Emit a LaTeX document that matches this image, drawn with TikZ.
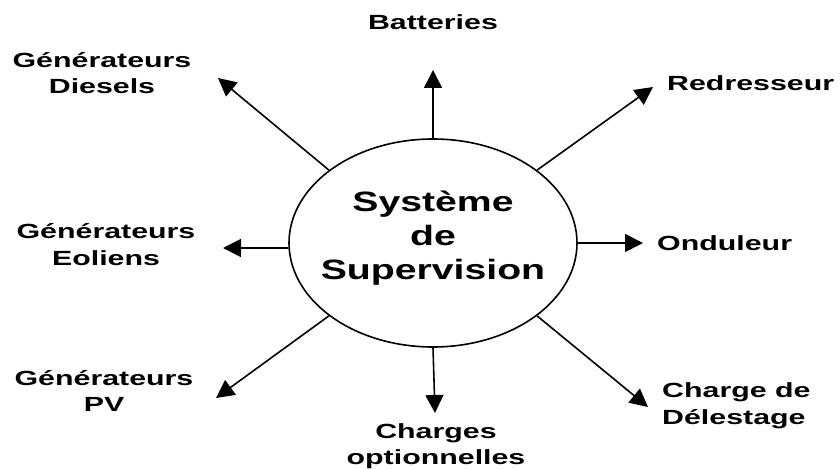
\documentclass[tikz,border=0pt]{standalone}
\usepackage{fontspec}
\newfontfamily\labfont[FakeStretch=1.48]{Liberation Sans}
\newfontfamily\cenfont[FakeStretch=1.40]{Liberation Sans}
\usetikzlibrary{shapes.geometric,arrows.meta}
\tikzset{
  lab/.style={inner sep=0pt, font=\labfont\bfseries\fontsize{20.5}{26.5}\selectfont, align=center},
  conn/.style={line width=1.6pt, -{Triangle[length=18pt,width=18pt]}},
  sysnode/.style={ellipse, draw, line width=1.6pt, minimum width=288pt, minimum height=208pt, inner sep=0pt}
}
\begin{document}
\begin{tikzpicture}[x=1pt,y=-1pt]
\useasboundingbox (0,0) rectangle (840,470);
\node[sysnode] (sys) at (433,243) {};
\node[inner sep=0pt, align=center, font=\cenfont\bfseries\fontsize{28}{34}\selectfont] (lbl) at (433,238.5) {Système\\de\\Supervision};
% labels
\node[lab, anchor=base] (bat) at (433,30) {Batteries};
\node[lab] (die) at (102,73) {Générateurs\\Diesels};
\node[lab, anchor=base west] (red) at (667,91) {Redresseur};
\node[lab] (eol) at (106,244.5) {Générateurs\\Eoliens};
\node[lab, anchor=base west] (ond) at (657,251) {Onduleur};
\node[lab] (pv) at (104,391) {Générateurs\\PV};
\node[lab] (cho) at (436,446) {Charges\\optionnelles};
\node[lab, align=left, anchor=west] (del) at (662,405.5) {Charge de\\Délestage};
% arrow ends
\coordinate (tbat) at (433,70);
\coordinate (tdie) at (218,78);
\coordinate (tred) at (653,87);
\coordinate (teol) at (223,248);
\coordinate (tond) at (643,243);
\coordinate (tpv) at (216,398);
\coordinate (tcho) at (435,413);
\coordinate (tdel) at (648,407);
% connectors
\draw[conn] (sys.north) -- (tbat);
\draw[conn] (sys.145) -- (tdie);
\draw[conn] (sys.35) -- (tred);
\draw[conn] (sys.182) -- (teol);
\draw[conn] (sys.east) -- (tond);
\draw[conn] (sys.215) -- (tpv);
\draw[conn] (sys.south) -- (tcho);
\draw[conn] (sys.325) -- (tdel);
\end{tikzpicture}
\end{document}
